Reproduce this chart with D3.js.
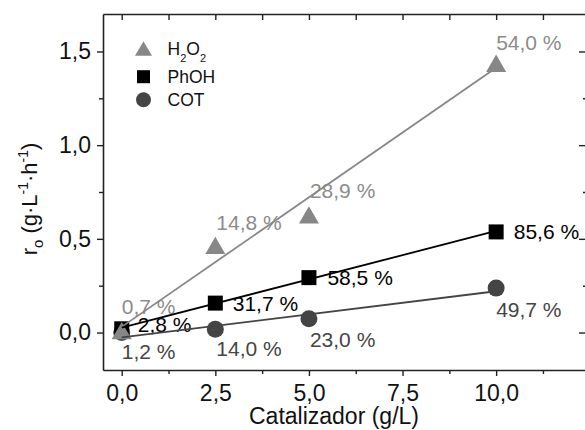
<!DOCTYPE html>
<html>
<head>
<meta charset="utf-8">
<script src="https://cdn.jsdelivr.net/npm/d3@7/dist/d3.min.js"></script>
<style>
  html, body { margin: 0; padding: 0; background: #fff; }
  svg { display: block; font-family: "Liberation Sans", Arial, sans-serif; }
</style>
</head>
<body>
<svg id="chart" width="585" height="430"></svg>
<script>
// Catalyst loading (g/L) and initial rates r_o (g·L^-1·h^-1)
const catalyst = [0, 2.5, 5, 10];
const h2o2Rate = [0.01, 0.465, 0.628, 1.437];
const phohRate = [0.02, 0.157, 0.293, 0.537];
const cotRate  = [0.0, 0.017, 0.073, 0.237];

// Conversion labels shown next to each point
const h2o2Conv = ["0,7 %", "14,8 %", "28,9 %", "54,0 %"];
const phohConv = ["2,8 %", "31,7 %", "58,5 %", "85,6 %"];
const cotConv  = ["1,2 %", "14,0 %", "23,0 %", "49,7 %"];

const seriesNames = ["H2O2", "PhOH", "COT"];
const xTicks = [0, 2.5, 5, 7.5, 10];
const xMinor = [1.25, 3.75, 6.25, 8.75, 11.25];
const yTicks = [0, 0.5, 1.0, 1.5];
const yMinor = [0.25, 0.75, 1.25];

const locale = d3.formatLocale({ decimal: ",", thousands: ".", grouping: [3], currency: ["", ""] });
const fmt = locale.format(".1f");

const svg = d3.select("#chart");
const FONT = "'Liberation Sans', Arial, sans-serif";
const frame = "#222";

const x = d3.scaleLinear().domain([-0.5, 12.4]).range([103, 586]);
const y = d3.scaleLinear().domain([-0.2, 1.7]).range([370, 14]);

// ---- axes ----
function styleAxis(g) {
  g.select(".domain").attr("stroke", frame).attr("stroke-width", 1.6);
  g.selectAll(".tick line").attr("stroke", frame).attr("stroke-width", 1.4);
  g.selectAll(".tick text").attr("fill", "#111").attr("font-family", FONT);
}

svg.append("g").attr("transform", `translate(0,${y.range()[0]})`)
  .call(d3.axisBottom(x).tickValues(xTicks).tickSize(6).tickPadding(9).tickFormat(fmt).tickSizeOuter(0))
  .attr("font-size", 23).call(styleAxis);
svg.append("g").attr("transform", `translate(0,${y.range()[0]})`)
  .call(d3.axisBottom(x).tickValues(xMinor).tickSize(4).tickFormat("").tickSizeOuter(0))
  .call(styleAxis).select(".domain").remove();

svg.append("g").attr("transform", `translate(${x.range()[0]},0)`)
  .call(d3.axisLeft(y).tickValues(yTicks).tickSize(6).tickPadding(6).tickFormat(fmt).tickSizeOuter(0))
  .attr("font-size", 23).call(styleAxis);
svg.append("g").attr("transform", `translate(${x.range()[0]},0)`)
  .call(d3.axisLeft(y).tickValues(yMinor).tickSize(4).tickFormat("").tickSizeOuter(0))
  .call(styleAxis).select(".domain").remove();

// mirrored top and right axes, ticks pointing inward
svg.append("g").attr("transform", `translate(0,${y.range()[1]})`)
  .call(d3.axisTop(x).tickValues(xTicks.concat(xMinor)).tickSize(-6).tickFormat("").tickSizeOuter(0))
  .call(styleAxis);
svg.append("g").attr("transform", `translate(${x.range()[1]},0)`)
  .call(d3.axisRight(y).tickValues(yTicks).tickSize(-7).tickFormat("").tickSizeOuter(0))
  .call(styleAxis);
svg.append("g").attr("transform", `translate(${x.range()[1]},0)`)
  .call(d3.axisRight(y).tickValues(yMinor).tickSize(-3).tickFormat("").tickSizeOuter(0))
  .call(styleAxis).select(".domain").remove();

// ---- axis titles ----
svg.append("text")
  .attr("x", 334).attr("y", 424)
  .attr("text-anchor", "middle").attr("font-size", 23).attr("fill", "#111")
  .text("Catalizador (g/L)");

const yt = svg.append("text")
  .attr("transform", "translate(37,199) rotate(-90)")
  .attr("text-anchor", "middle").attr("font-size", 22).attr("fill", "#111");
yt.append("tspan").text("r");
yt.append("tspan").attr("font-size", 15).attr("dy", 6).text("o");
yt.append("tspan").attr("dy", -6).text(" (g·L");
yt.append("tspan").attr("font-size", 14).attr("dy", -9).text("-1");
yt.append("tspan").attr("dy", 9).text("·h");
yt.append("tspan").attr("font-size", 14).attr("dy", -9).text("-1");
yt.append("tspan").attr("dy", 9).text(")");

// ---- series ----
const series = [
  { name: "H2O2", rates: h2o2Rate, conv: h2o2Conv, color: "#878787", labelColor: "#8c8c8c", shape: "triangle", size: 20,
    offsets: [[0, -17], [1, -15.6], [1, -17], [0, -13.4]] },
  { name: "PhOH", rates: phohRate, conv: phohConv, color: "#000", labelColor: "#000", shape: "square", size: 15,
    offsets: [[16, 3], [17.4, 7.7], [18.5, 7.2], [17.6, 6.9]] },
  { name: "COT", rates: cotRate, conv: cotConv, color: "#444", labelColor: "#454545", shape: "circle", size: 17,
    offsets: [[0, 26], [1, 27], [1, 27.7], [0, 29]] }
];

function shapePath(shape, s) {
  if (shape === "triangle") {
    const h = s * Math.sqrt(3) / 2;
    return `M0,${-h / 2}L${s / 2},${h / 2}L${-s / 2},${h / 2}Z`;
  }
  if (shape === "square") return `M${-s / 2},${-s / 2}h${s}v${s}h${-s}Z`;
  const r = s / 2;
  return `M${r},0A${r},${r} 0 1,1 ${-r},0A${r},${r} 0 1,1 ${r},0Z`;
}

// least-squares straight line through each series
function fit(xs, ys) {
  const mx = d3.mean(xs), my = d3.mean(ys);
  const sxy = d3.sum(xs, (v, i) => (v - mx) * (ys[i] - my));
  const sxx = d3.sum(xs, v => (v - mx) ** 2);
  const b = sxy / sxx;
  return { a: my - b * mx, b };
}

// conversion labels
series.forEach(s => {
  svg.append("g").selectAll("text").data(s.conv).join("text")
    .attr("x", (d, i) => x(catalyst[i]) + s.offsets[i][0])
    .attr("y", (d, i) => y(s.rates[i]) + s.offsets[i][1])
    .attr("font-size", 21).attr("fill", s.labelColor)
    .text(d => d);
});

// markers, drawn back to front
[series[2], series[1], series[0]].forEach(s => {
  svg.append("g").selectAll("path").data(s.rates).join("path")
    .attr("transform", (d, i) => `translate(${x(catalyst[i])},${y(d)})`)
    .attr("d", shapePath(s.shape, s.size))
    .attr("fill", s.color);
});

// fitted lines
series.forEach(s => {
  const f = fit(catalyst, s.rates);
  const ends = d3.extent(catalyst);
  svg.append("line")
    .attr("x1", x(ends[0])).attr("y1", y(f.a + f.b * ends[0]))
    .attr("x2", x(ends[1])).attr("y2", y(f.a + f.b * ends[1]))
    .attr("stroke", s.color).attr("stroke-width", 1.8);
});

// ---- legend ----
const legend = svg.append("g").attr("font-size", 17.5).attr("fill", "#111");
const legendRows = [
  { shape: "triangle", size: 17, color: "#878787", cy: 48.5 },
  { shape: "square", size: 13, color: "#000", cy: 76.7 },
  { shape: "circle", size: 15, color: "#444", cy: 99.8 }
];
legendRows.forEach((r, i) => {
  legend.append("path")
    .attr("transform", `translate(143.5,${r.cy})`)
    .attr("d", shapePath(r.shape, r.size))
    .attr("fill", r.color);
  const t = legend.append("text").attr("x", 167.5).attr("y", r.cy + 6.5);
  if (seriesNames[i] === "H2O2") {
    t.append("tspan").text("H");
    t.append("tspan").attr("font-size", 11).attr("dy", 7).text("2");
    t.append("tspan").attr("dy", -7).text("O");
    t.append("tspan").attr("font-size", 11).attr("dy", 7).text("2");
  } else {
    t.text(seriesNames[i]);
  }
});
</script>
</body>
</html>
